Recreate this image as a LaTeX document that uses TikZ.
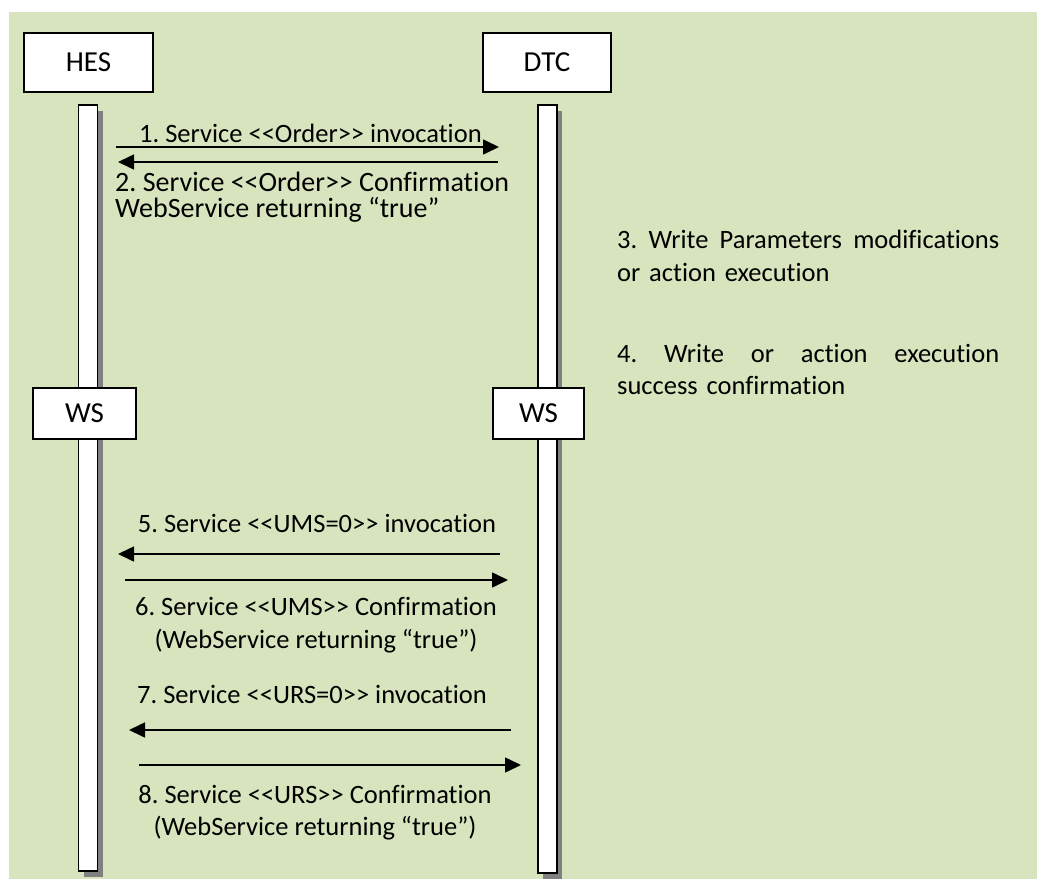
\documentclass[tikz,border=0pt]{standalone}
\usepackage{fontspec}
\setmainfont[Ligatures=NoCommon]{Carlito}
\usetikzlibrary{arrows.meta,shadows}
\definecolor{panel}{HTML}{D7E4BD}
\definecolor{shade}{HTML}{808080}
\frenchspacing
% a line spread evenly over the width of a note
\newcommand{\spreadline}[1]{\hbox to 382pt{#1}}

\begin{document}
\begin{tikzpicture}[x=1pt,y=-1pt,
  actor/.style={draw=black, line width=1.8pt, fill=white, inner sep=0pt,
    minimum width=#1, font=\fontsize{29}{34}\selectfont},
  lifeline/.style={draw=black, line width=1.5pt, fill=white, inner sep=0pt,
    minimum width=19pt, minimum height=#1,
    drop shadow={fill=shade, opacity=1, shadow xshift=5pt, shadow yshift=-6pt}},
  msg/.style={line width=1.6pt, -{Triangle[length=16pt,width=15pt]}},
  lbl/.style={inner sep=0pt, font=\fontsize{26.5}{33}\selectfont},
  note/.style={lbl, text width=382pt, align=left, anchor=base west}
]
% page and panel
\useasboundingbox (0,0) rectangle (1037,881);
\fill[white] (0,0) rectangle (1037,881);
\fill[panel] (9,12) rectangle (1037,879);

% lifelines
\node[lifeline=766pt] (hesL) at (88,488) {};
\node[lifeline=768pt] (dtcL) at (547.5,489) {};

% participants
\node[actor=129pt, minimum height=59pt] (hes) at (88.5,62.5) {HES};
\node[actor=128pt, minimum height=59pt] (dtc) at (547,62.5) {DTC};
\node[actor=103pt, minimum height=51pt] (wsA) at (84.5,413.5) {WS};
\node[actor=91pt, minimum height=51pt] (wsB) at (538.5,413.5) {WS};

% message end points
\coordinate (m1a) at (116,147);  \coordinate (m1b) at (499,147);
\coordinate (m2a) at (498,162);  \coordinate (m2b) at (118,162);
\coordinate (m5a) at (500,554);  \coordinate (m5b) at (118,554);
\coordinate (m6a) at (125,580);  \coordinate (m6b) at (508,580);
\coordinate (m7a) at (511,730);  \coordinate (m7b) at (129,730);
\coordinate (m8a) at (139,765);  \coordinate (m8b) at (521,765);

\draw[msg] (m1a) -- (m1b);
\draw[msg] (m2a) -- (m2b);
\draw[msg] (m5a) -- (m5b);
\draw[msg] (m6a) -- (m6b);
\draw[msg] (m7a) -- (m7b);
\draw[msg] (m8a) -- (m8b);

% message labels (multi-line labels are placed by their last baseline)
\node[lbl, anchor=base west] (t1) at (139,142) {1. Service <{}<Order>{}> invocation};
\node[lbl, anchor=base west, align=left, font=\fontsize{28}{26}\selectfont] (t2) at (115,217)
  {2. Service <{}<Order>{}> Confirmation\\WebService returning “true”};
\node[lbl, anchor=base] (t5) at (317,532) {5. Service <{}<UMS=0>{}> invocation};
\node[lbl, anchor=base, align=center] (t6) at (316,648)
  {6. Service <{}<UMS>{}> Confirmation\\(WebService returning “true”)};
\node[lbl, anchor=base] (t7) at (312,703) {7. Service <{}<URS=0>{}> invocation};
\node[lbl, anchor=base, align=center, font=\fontsize{26.5}{32}\selectfont] (t8) at (315,835)
  {8. Service <{}<URS>{}> Confirmation\\(WebService returning “true”)};

% local steps on the DTC side
\node[note] (t3) at (617,248)
  {\spreadline{3.\hfill Write\hfill Parameters\hfill modifications}\\or action execution};
\node[note, font=\fontsize{26.5}{32}\selectfont] (t4) at (617,362)
  {\spreadline{4.\hfill Write\hfill or\hfill action\hfill execution}\\success confirmation};
\end{tikzpicture}
\end{document}
